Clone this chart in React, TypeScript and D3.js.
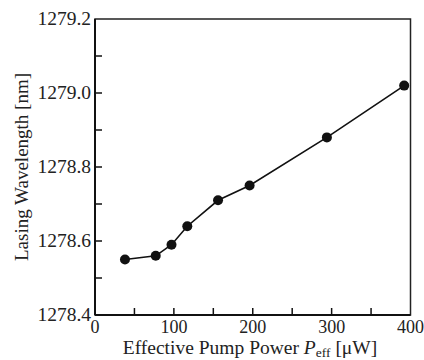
import { useEffect, useRef } from "react";
import * as d3 from "d3";

const pumpPower = [38, 77, 97, 117, 156, 196, 294, 392];
const wavelength = [1278.55, 1278.56, 1278.59, 1278.64, 1278.71, 1278.75, 1278.88, 1279.02];
const xTicks = [0, 50, 100, 150, 200, 250, 300, 350, 400];
const xLabels = [0, 100, 200, 300, 400];
const yTicks = [1278.4, 1278.5, 1278.6, 1278.7, 1278.8, 1278.9, 1279.0, 1279.1, 1279.2];
const yLabels = [1278.4, 1278.6, 1278.8, 1279.0, 1279.2];

const App = () => {
  const ref = useRef<SVGSVGElement | null>(null);

  useEffect(() => {
    if (!ref.current) return;
    const svg = d3.select(ref.current);
    svg.selectAll("*").remove();

    const width = 424;
    const height = 360;
    const m = { top: 19, right: 13.5, bottom: 45, left: 95 };
    const font = "Liberation Serif, Times New Roman, Times, serif";

    const x = d3.scaleLinear().domain([0, 400]).range([m.left, width - m.right]);
    const y = d3.scaleLinear().domain([1278.4, 1279.2]).range([height - m.bottom, m.top]);

    const x0 = x(0), x1 = x(400), y0 = y(1278.4), y1 = y(1279.2);

    // frame
    svg.append("rect")
      .attr("x", x0).attr("y", y1)
      .attr("width", x1 - x0).attr("height", y0 - y1)
      .attr("fill", "none").attr("stroke", "#222").attr("stroke-width", 1.5);
    svg.append("line").attr("x1", x0).attr("x2", x0).attr("y1", y1).attr("y2", y0)
      .attr("stroke", "#111").attr("stroke-width", 2);
    svg.append("line").attr("x1", x0).attr("x2", x1).attr("y1", y0).attr("y2", y0)
      .attr("stroke", "#111").attr("stroke-width", 2);

    // ticks (inward)
    svg.append("g").selectAll("line").data(xTicks.slice(1, -1)).join("line")
      .attr("x1", (d) => x(d)).attr("x2", (d) => x(d))
      .attr("y1", y0).attr("y2", y0 - 7)
      .attr("stroke", "#111").attr("stroke-width", 1.5);
    svg.append("g").selectAll("line").data(yTicks.slice(1, -1)).join("line")
      .attr("x1", x0).attr("x2", x0 + 7)
      .attr("y1", (d) => y(d)).attr("y2", (d) => y(d))
      .attr("stroke", "#111").attr("stroke-width", 1.5);

    // tick labels
    svg.append("g").selectAll("text").data(xLabels).join("text")
      .attr("x", (d) => x(d)).attr("y", y0 + 18)
      .attr("text-anchor", "middle")
      .attr("font-family", font).attr("font-size", 18).attr("fill", "#222")
      .text((d) => String(d));
    svg.append("g").selectAll("text").data(yLabels).join("text")
      .attr("x", x0 - 4).attr("y", (d) => y(d) + 6)
      .attr("text-anchor", "end")
      .attr("font-family", font).attr("font-size", 19.5).attr("fill", "#222")
      .text((d) => d.toFixed(1));

    // axis titles
    const xt = svg.append("text")
      .attr("x", 250).attr("y", 354)
      .attr("text-anchor", "middle")
      .attr("font-family", font).attr("font-size", 19.5).attr("fill", "#222");
    xt.append("tspan").text("Effective Pump Power ");
    xt.append("tspan").attr("font-style", "italic").text("P");
    xt.append("tspan").attr("dy", 3).attr("font-size", 13.5).text("eff");
    xt.append("tspan").attr("dy", -3).text(" [\u03bcW]");

    svg.append("text")
      .attr("transform", `translate(28,${(y0 + y1) / 2}) rotate(-90)`)
      .attr("text-anchor", "middle")
      .attr("font-family", font).attr("font-size", 19).attr("fill", "#222")
      .text("Lasing Wavelength [nm]");

    // series
    const pts = pumpPower.map((p, i) => [p, wavelength[i]] as [number, number]);
    const line = d3.line<[number, number]>().x((d) => x(d[0])).y((d) => y(d[1]));
    svg.append("path").datum(pts)
      .attr("d", line).attr("fill", "none")
      .attr("stroke", "#111").attr("stroke-width", 1.6);
    svg.append("g").selectAll("circle").data(pts).join("circle")
      .attr("cx", (d) => x(d[0])).attr("cy", (d) => y(d[1]))
      .attr("r", 5).attr("fill", "#111");
  }, []);

  return (
    <svg
      ref={ref}
      width={424}
      height={360}
      style={{ position: "absolute", left: 0, top: 0, background: "#fff" }}
    ></svg>
  );
};

export default App;
